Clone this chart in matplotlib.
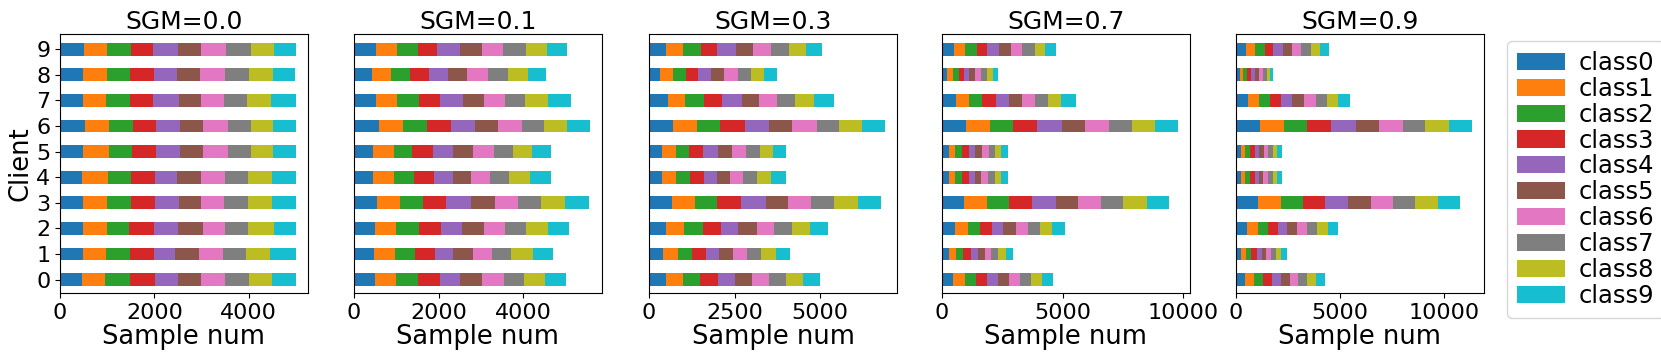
import numpy as np
import matplotlib.pyplot as plt

classes = [f'class{i}' for i in range(10)]
clients = list(range(10))
sgm_values = ['0.0', '0.1', '0.3', '0.7', '0.9']

# samples per class for each client (rows: client 0..9, cols: class 0..9)
sgm_00 = [
    [468, 496, 525, 525, 482, 496, 496, 510, 503, 503],
    [482, 503, 503, 503, 447, 510, 503, 489, 510, 553],
    [496, 503, 468, 525, 503, 532, 475, 482, 546, 475],
    [496, 503, 510, 503, 510, 475, 489, 489, 510, 518],
    [468, 539, 503, 496, 468, 518, 510, 482, 503, 518],
    [496, 539, 489, 503, 525, 489, 518, 496, 468, 482],
    [532, 503, 503, 496, 518, 489, 518, 482, 482, 482],
    [496, 489, 489, 496, 546, 482, 475, 496, 510, 525],
    [496, 503, 489, 496, 489, 489, 546, 503, 510, 468],
    [510, 483, 503, 468, 532, 497, 518, 532, 496, 468],
]
sgm_01 = [
    [505, 489, 521, 521, 473, 513, 513, 489, 489, 489],
    [481, 481, 481, 466, 426, 466, 450, 466, 505, 481],
    [489, 497, 552, 513, 489, 529, 489, 513, 505, 505],
    [552, 537, 537, 544, 600, 552, 552, 544, 568, 552],
    [442, 505, 466, 466, 458, 434, 434, 458, 489, 489],
    [458, 481, 434, 481, 489, 473, 489, 458, 442, 442],
    [584, 576, 552, 568, 576, 544, 568, 513, 552, 544],
    [529, 489, 513, 497, 544, 497, 505, 466, 544, 544],
    [434, 442, 450, 442, 450, 450, 489, 473, 481, 434],
    [513, 497, 497, 458, 529, 521, 505, 537, 505, 458],
]
sgm_03 = [
    [498, 488, 518, 518, 479, 498, 518, 498, 479, 498],
    [420, 420, 420, 420, 371, 401, 401, 420, 430, 420],
    [498, 518, 557, 518, 508, 547, 508, 528, 518, 528],
    [664, 674, 664, 674, 733, 664, 674, 655, 703, 684],
    [371, 430, 401, 410, 381, 371, 381, 410, 420, 430],
    [391, 410, 371, 420, 420, 401, 430, 391, 381, 391],
    [713, 703, 674, 703, 723, 674, 713, 645, 674, 684],
    [547, 518, 537, 547, 557, 508, 537, 528, 557, 586],
    [332, 381, 371, 352, 381, 381, 401, 391, 381, 361],
    [508, 498, 518, 459, 547, 508, 518, 547, 498, 459],
]
sgm_07 = [
    [470, 470, 456, 456, 456, 470, 470, 443, 443, 456],
    [290, 290, 304, 304, 290, 290, 277, 290, 304, 304],
    [539, 526, 512, 498, 470, 526, 484, 526, 498, 512],
    [913, 954, 913, 954, 982, 927, 940, 913, 982, 927],
    [277, 277, 290, 277, 249, 263, 263, 290, 277, 290],
    [290, 263, 263, 290, 277, 277, 277, 263, 263, 290],
    [996, 1010, 954, 982, 1023, 954, 1010, 940, 968, 954],
    [567, 539, 539, 581, 567, 526, 553, 512, 567, 595],
    [221, 249, 221, 207, 235, 249, 249, 249, 249, 207],
    [498, 470, 470, 415, 526, 470, 484, 512, 443, 456],
]
sgm_09 = [
    [433, 433, 433, 433, 417, 433, 417, 433, 417, 449],
    [241, 225, 273, 273, 225, 225, 241, 241, 241, 257],
    [530, 514, 482, 482, 449, 482, 465, 514, 498, 498],
    [1059, 1091, 1059, 1075, 1124, 1075, 1075, 1059, 1091, 1091],
    [225, 225, 209, 241, 225, 193, 241, 209, 225, 225],
    [241, 209, 225, 225, 225, 209, 225, 225, 209, 225],
    [1172, 1140, 1107, 1156, 1188, 1124, 1156, 1075, 1124, 1124],
    [562, 530, 530, 546, 546, 546, 578, 530, 562, 562],
    [177, 177, 177, 177, 193, 193, 193, 193, 177, 144],
    [465, 465, 449, 401, 482, 433, 449, 482, 433, 401],
]
panels = [sgm_00, sgm_01, sgm_03, sgm_07, sgm_09]

colors = plt.get_cmap('tab10').colors

fig = plt.figure(figsize=(16.61, 3.61), dpi=100)
lefts = [60, 354, 649, 942, 1236]
ax_w = 248
bottom = (361 - 293) / 361
height = (293 - 34) / 361

for i, (sgm, counts) in enumerate(zip(sgm_values, panels)):
    ax = fig.add_axes([lefts[i] / 1661, bottom, ax_w / 1661, height])
    counts = np.array(counts)
    left = np.zeros(len(clients))
    for c in range(len(classes)):
        ax.barh(clients, counts[:, c], left=left, height=0.5,
                color=colors[c], label=classes[c])
        left += counts[:, c]
    ax.set_xlim(0, left.max() * 1.05)
    ax.set_ylim(-0.52, 9.59)
    ax.set_title(f'SGM={sgm}', fontsize=18, pad=3)
    ax.set_xlabel('Sample num', fontsize=18.5, labelpad=1)
    ax.tick_params(axis='x', labelsize=16)
    if i == 0:
        ax.set_yticks(clients)
        ax.set_yticklabels([str(c) for c in clients], fontsize=16)
        ax.set_ylabel('Client', fontsize=18.5, labelpad=2)
    else:
        ax.set_yticks([])
    if i == 4:
        handles, labels = ax.get_legend_handles_labels()

fig.legend(handles, labels, loc='center left',
           bbox_to_anchor=(1507 / 1661, 0.503), fontsize=17.5,
           handlelength=2.0, handletextpad=0.55, labelspacing=0.08,
           borderaxespad=0)

fig.savefig('out.png', dpi=100)
